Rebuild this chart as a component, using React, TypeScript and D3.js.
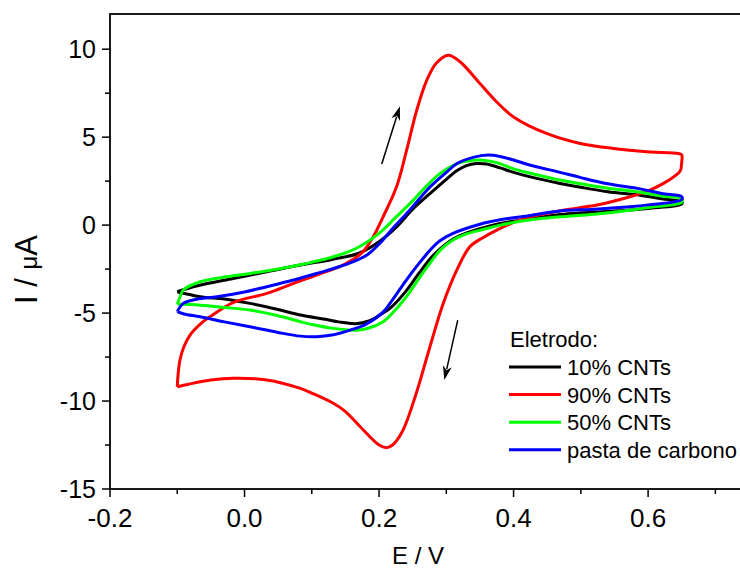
import React from "react";
import * as d3 from "d3";

// Potential (V) / current (µA) pairs, forward (upper) branch then reverse (lower) branch
const black10: [number, number][] = [
  [-0.1, -3.79], [-0.07, -3.45], [-0.017, -3.03], [0.033, -2.65], [0.083, -2.27], [0.13, -1.95], [0.17, -1.6], [0.2, -0.95], [0.226, -0.1], [0.25, 0.9], [0.276, 1.8], [0.3, 2.6], [0.316, 3.1], [0.33, 3.38], [0.345, 3.5], [0.36, 3.47], [0.38, 3.25], [0.4, 3.0], [0.425, 2.74], [0.469, 2.37], [0.5, 2.15], [0.54, 1.9], [0.588, 1.7], [0.62, 1.5], [0.65, 1.32],
  [0.65, 1.2], [0.6, 0.95], [0.55, 0.8], [0.5, 0.7], [0.469, 0.6], [0.425, 0.35], [0.38, 0.1], [0.35, -0.2], [0.32, -0.6], [0.3, -1.05], [0.28, -1.75], [0.26, -2.7], [0.24, -3.75], [0.22, -4.6], [0.206, -5.0], [0.185, -5.45], [0.165, -5.6], [0.14, -5.5], [0.12, -5.35], [0.083, -5.11], [0.05, -4.8], [0.008, -4.45], [-0.03, -4.2], [-0.066, -4.07], [-0.1, -3.79],
];

const red90: [number, number][] = [
  [-0.1, -9.19], [-0.099, -8.6], [-0.096, -7.67], [-0.09, -6.9], [-0.08, -6.2], [-0.065, -5.6], [-0.051, -5.2], [-0.017, -4.4], [0.033, -3.88], [0.07, -3.35], [0.107, -2.84], [0.15, -2.2], [0.175, -1.55], [0.19, -0.75], [0.206, 0.47], [0.226, 2.18], [0.241, 4.26], [0.256, 6.53], [0.271, 8.24], [0.285, 9.2], [0.303, 9.66], [0.32, 9.3], [0.35, 8.05], [0.375, 7.0], [0.4, 6.15], [0.449, 5.21], [0.499, 4.64], [0.548, 4.36], [0.598, 4.17], [0.645, 4.07], [0.65, 4.0],
  [0.65, 3.6], [0.648, 3.1], [0.64, 2.8], [0.623, 2.37], [0.6, 1.95], [0.573, 1.61], [0.524, 1.14], [0.474, 0.85], [0.425, 0.47], [0.4, 0.15], [0.375, -0.28], [0.355, -0.7], [0.335, -1.23], [0.315, -2.6], [0.295, -4.5], [0.275, -7.0], [0.255, -9.6], [0.235, -11.7], [0.22, -12.5], [0.211, -12.65], [0.2, -12.5], [0.172, -11.46], [0.15, -10.6], [0.132, -10.13], [0.1, -9.55], [0.083, -9.28], [0.033, -8.8], [-0.017, -8.71], [-0.05, -8.8], [-0.066, -8.9], [-0.1, -9.19],
];

const green50: [number, number][] = [
  [-0.1, -4.49], [-0.095, -4.0], [-0.091, -3.69], [-0.066, -3.22], [-0.03, -2.95], [0.008, -2.75], [0.05, -2.5], [0.09, -2.2], [0.132, -1.8], [0.167, -1.3], [0.2, -0.47], [0.225, 0.45], [0.251, 1.42], [0.27, 2.2], [0.291, 2.94], [0.32, 3.55], [0.34, 3.68], [0.355, 3.69], [0.375, 3.55], [0.4, 3.2], [0.425, 2.95], [0.469, 2.56], [0.5, 2.35], [0.54, 2.1], [0.588, 1.87], [0.62, 1.65], [0.65, 1.5],
  [0.65, 1.3], [0.6, 1.0], [0.573, 0.85], [0.52, 0.62], [0.469, 0.47], [0.425, 0.3], [0.38, 0.0], [0.355, -0.25], [0.33, -0.5], [0.31, -0.85], [0.291, -1.42], [0.276, -2.15], [0.26, -3.0], [0.24, -4.1], [0.22, -5.0], [0.206, -5.49], [0.185, -5.85], [0.167, -5.97], [0.132, -5.87], [0.1, -5.65], [0.083, -5.49], [0.05, -5.15], [0.008, -4.83], [-0.03, -4.68], [-0.066, -4.55], [-0.1, -4.49],
];

const bluePaste: [number, number][] = [
  [-0.1, -4.92], [-0.091, -4.45], [-0.07, -4.2], [-0.041, -4.07], [0.0, -3.8], [0.033, -3.5], [0.07, -3.15], [0.107, -2.75], [0.15, -2.25], [0.182, -1.7], [0.201, -1.04], [0.22, -0.2], [0.241, 0.66], [0.26, 1.5], [0.276, 2.18], [0.3, 3.0], [0.316, 3.5], [0.34, 3.85], [0.362, 3.98], [0.38, 3.9], [0.4, 3.7], [0.425, 3.4], [0.469, 3.0], [0.5, 2.7], [0.54, 2.35], [0.588, 2.06], [0.62, 1.8], [0.65, 1.62],
  [0.65, 1.45], [0.6, 1.15], [0.573, 1.04], [0.52, 0.9], [0.469, 0.8], [0.425, 0.55], [0.38, 0.3], [0.35, 0.05], [0.31, -0.47], [0.29, -0.9], [0.276, -1.42], [0.26, -2.15], [0.24, -3.15], [0.22, -4.25], [0.206, -4.95], [0.18, -5.65], [0.157, -5.97], [0.13, -6.25], [0.107, -6.34], [0.083, -6.31], [0.05, -6.1], [0.008, -5.78], [-0.03, -5.5], [-0.066, -5.21], [-0.09, -5.05], [-0.1, -4.92],
];

const seriesNames = ["10% CNTs", "90% CNTs", "50% CNTs", "pasta de carbono"];
const seriesColors = ["#000000", "#ff0000", "#00ff00", "#0000ff"];
const seriesData = [black10, red90, green50, bluePaste];

const xMajorTicks = [-0.2, 0.0, 0.2, 0.4, 0.6];
const xMinorTicks = [-0.1, 0.1, 0.3, 0.5, 0.7];
const yMajorTicks = [-15, -10, -5, 0, 5, 10];
const yMinorTicks = [-12.5, -7.5, -2.5, 2.5, 7.5];

// arrows: [E start, I start, E end, I end]
const arrowUp = [0.204, 3.47, 0.231, 6.76];
const arrowDown = [0.317, -5.4, 0.297, -8.8];

const W = 740;
const H = 570;
const FONT = "'Liberation Sans', Arial, sans-serif";

export default function App() {
  const x = d3.scaleLinear().domain([-0.2, 0.75]).range([110, 749]);
  const y = d3.scaleLinear().domain([-15, 12]).range([489, 14]);
  const line = d3
    .line<[number, number]>()
    .x((d) => x(d[0]))
    .y((d) => y(d[1]))
    .curve(d3.curveCatmullRom.alpha(0.5));

  const left = x.range()[0];
  const right = x.range()[1];
  const top = y.range()[1];
  const bottom = y.range()[0];

  const arrow = (a: number[], key: string) => {
    const x1 = x(a[0]), y1 = y(a[1]), x2 = x(a[2]), y2 = y(a[3]);
    const ang = Math.atan2(y2 - y1, x2 - x1);
    const L = 14, Wd = 4.5;
    const bx = x2 - L * Math.cos(ang), by = y2 - L * Math.sin(ang);
    const px = -Math.sin(ang) * Wd, py = Math.cos(ang) * Wd;
    const nx = x2 - (L - 4) * Math.cos(ang), ny = y2 - (L - 4) * Math.sin(ang);
    return (
      <g key={key}>
        <line x1={x1} y1={y1} x2={bx + 3 * Math.cos(ang)} y2={by + 3 * Math.sin(ang)} stroke="#000" strokeWidth={1.5} />
        <path d={`M${x2},${y2} L${bx + px},${by + py} L${nx},${ny} L${bx - px},${by - py} Z`} fill="#000" />
      </g>
    );
  };

  return (
    <svg width={W} height={H} style={{ position: "absolute", left: 0, top: 0, background: "#fff" }} fontFamily={FONT}>
      <rect x={0} y={0} width={W} height={H} fill="#fff" />
      <defs>
        <clipPath id="plotclip">
          <rect x={left} y={top} width={right - left} height={bottom - top} />
        </clipPath>
      </defs>
      <g clipPath="url(#plotclip)">
        {seriesData.map((d, i) => (
          <path key={i} d={line(d) || ""} fill="none" stroke={seriesColors[i]} strokeWidth={3} strokeLinejoin="round" />
        ))}
      </g>
      {arrow(arrowUp, "up")}
      {arrow(arrowDown, "down")}
      {/* frame */}
      <rect x={left} y={top} width={right - left} height={bottom - top} fill="none" stroke="#000" strokeWidth={1.8} />
      {/* x ticks */}
      {xMajorTicks.map((t) => (
        <g key={"xm" + t}>
          <line x1={x(t)} x2={x(t)} y1={bottom} y2={bottom + 8} stroke="#000" strokeWidth={1.5} />
          <text x={x(t)} y={527} fontSize={26} textAnchor="middle">{t.toFixed(1)}</text>
        </g>
      ))}
      {xMinorTicks.map((t) => (
        <line key={"xn" + t} x1={x(t)} x2={x(t)} y1={bottom} y2={bottom + 5} stroke="#000" strokeWidth={1.5} />
      ))}
      {/* y ticks */}
      {yMajorTicks.map((t) => (
        <g key={"ym" + t}>
          <line x1={left} x2={left - 8} y1={y(t)} y2={y(t)} stroke="#000" strokeWidth={1.5} />
          <text x={96} y={y(t) + 9} fontSize={25} textAnchor="end">{t}</text>
        </g>
      ))}
      {yMinorTicks.map((t) => (
        <line key={"yn" + t} x1={left} x2={left - 5} y1={y(t)} y2={y(t)} stroke="#000" strokeWidth={1.5} />
      ))}
      {/* axis titles */}
      <text transform={`translate(37,${(top + bottom) / 2 + 18}) rotate(-90)`} fontSize={31} textAnchor="middle">
        I / <tspan fontSize={24}>μ</tspan>A
      </text>
      <text x={418} y={564} fontSize={24} textAnchor="middle">E / V</text>
      {/* legend */}
      <text x={510} y={347} fontSize={22}>Eletrodo:</text>
      {seriesNames.map((n, i) => {
        const ly = 367 + i * 27.6;
        return (
          <g key={n}>
            <line x1={509} x2={561} y1={ly} y2={ly} stroke={seriesColors[i]} strokeWidth={3} />
            <text x={567} y={ly + 8} fontSize={22}>{n}</text>
          </g>
        );
      })}
    </svg>
  );
}
